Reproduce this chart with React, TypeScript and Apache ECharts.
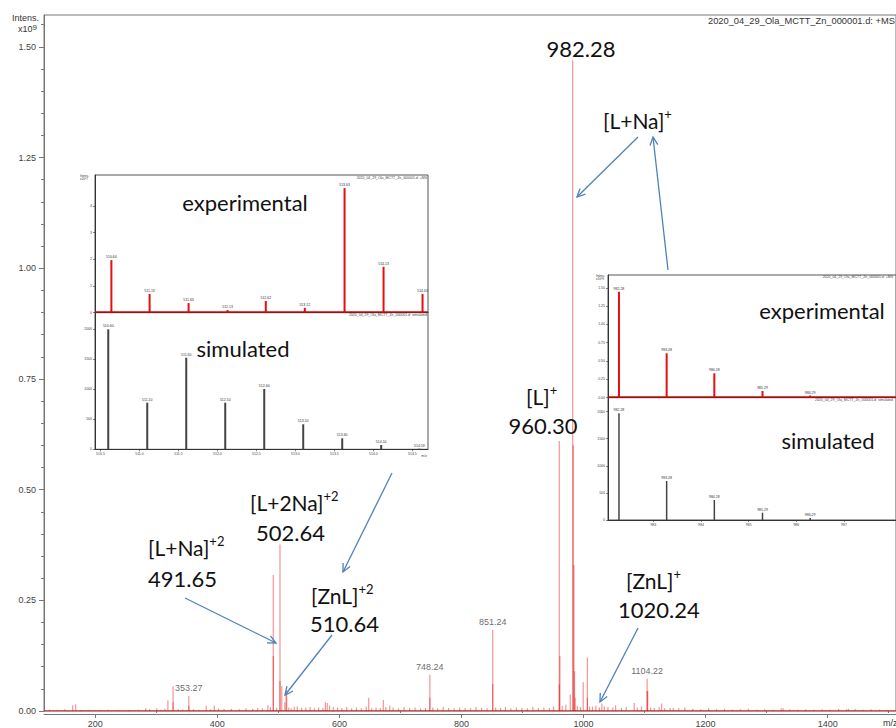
import React, { useEffect, useRef } from "react";
import * as echarts from "echarts";

// ---------- main spectrum (m/z, intensity x10^9) ----------
const mainMz = [163, 168, 282.7, 301, 319, 327.5, 353.27, 381.7, 395, 482.8, 491.65, 502.64, 505.6, 510.64, 512.6, 513.63, 526, 577, 580, 648, 672, 682.5, 748.24, 851.24, 960.3, 961.3, 978.3, 982.28, 983.28, 984.28, 985.29, 986.29, 999.5, 1006.3, 1014.7, 1020.24, 1030, 1052.6, 1083, 1104.22, 1105.22, 1128, 1142, 1327, 1434];
const mainInt = [0.013, 0.015, 0.006, 0.006, 0.024, 0.056, 0.034, 0.012, 0.012, 0.013, 0.307, 0.376, 0.056, 0.02, 0.038, 0.047, 0.01, 0.02, 0.018, 0.03, 0.025, 0.012, 0.082, 0.183, 0.61, 0.124, 0.037, 1.47, 0.6, 0.33, 0.09, 0.03, 0.065, 0.121, 0.01, 0.012, 0.017, 0.013, 0.018, 0.073, 0.045, 0.017, 0.007, 0.006, 0.005];
// darker lower parts of the profile peaks
const coreMz = [327.5, 353.27, 491.65, 502.64, 748.24, 851.24, 960.3, 1006.3, 1104.22];
const coreInt = [0.02, 0.012, 0.124, 0.068, 0.03, 0.061, 0.06, 0.03, 0.045];
const noiseMz = [125, 138, 150, 176, 190, 207, 221, 238, 255, 271, 289, 308, 314, 336, 343, 361, 370, 389, 402, 411, 423, 436, 447, 458, 466, 474, 487, 497, 517, 521, 531, 538, 545, 552, 559, 566, 573, 584, 590, 597, 604, 612, 620, 628, 636, 644, 653, 660, 667, 676, 688, 697, 706, 715, 724, 733, 741, 753, 761, 770, 779, 788, 797, 806, 815, 824, 833, 842, 856, 864, 872, 881, 890, 899, 908, 917, 926, 935, 944, 951, 965, 971, 990, 995, 1010, 1026, 1034, 1040, 1048, 1062, 1070, 1088, 1095, 1110, 1116, 1124, 1133, 1147, 1156, 1166, 1179, 1192, 1205, 1218, 1231, 1244, 1257, 1270, 1284, 1297, 1311, 1324, 1338, 1351, 1364, 1378, 1391, 1404, 1418, 1431, 1445, 1458, 1471, 1485, 1498];
const noiseInt = [
  0.003, 0.002, 0.004, 0.002, 0.003, 0.002, 0.003, 0.002, 0.002, 0.003,
  0.004, 0.003, 0.005, 0.004, 0.003, 0.004, 0.003, 0.004, 0.006, 0.005,
  0.005, 0.004, 0.006, 0.005, 0.007, 0.006, 0.009, 0.007, 0.008, 0.006,
  0.01, 0.007, 0.008, 0.009, 0.006, 0.008, 0.007, 0.012, 0.009, 0.008,
  0.007, 0.009, 0.006, 0.008, 0.007, 0.01, 0.006, 0.008, 0.007, 0.009,
  0.008, 0.006, 0.009, 0.007, 0.008, 0.006, 0.007, 0.008, 0.006, 0.009,
  0.007, 0.006, 0.008, 0.007, 0.006, 0.009, 0.007, 0.006, 0.008, 0.007,
  0.009, 0.006, 0.008, 0.007, 0.006, 0.009, 0.007, 0.008, 0.007, 0.01,
  0.012, 0.014, 0.011, 0.009, 0.01, 0.008, 0.011, 0.009, 0.008, 0.007,
  0.009, 0.008, 0.01, 0.008, 0.007, 0.009, 0.006, 0.007, 0.006, 0.008,
  0.005, 0.004, 0.006, 0.004, 0.005, 0.003, 0.004, 0.005, 0.003, 0.004,
  0.003, 0.006, 0.004, 0.003, 0.004, 0.003, 0.004, 0.003, 0.005, 0.004,
  0.005, 0.003, 0.004, 0.003, 0.002,
];
const labeledMz = [353.27, 748.24, 851.24, 1104.22];
const labeledInt = [0.034, 0.082, 0.183, 0.073];
const xTicks = [200, 400, 600, 800, 1000, 1200, 1400];
const xMinorTicks = [300, 500, 700, 900, 1100, 1300, 1500];
const yTicks = [0, 0.25, 0.5, 0.75, 1.0, 1.25, 1.5];
const yMinorTicks = [0.05, 0.1, 0.15, 0.2, 0.3, 0.35, 0.4, 0.45, 0.55, 0.6, 0.65, 0.7, 0.8, 0.85, 0.9, 0.95, 1.05, 1.1, 1.15, 1.2, 1.3, 1.35, 1.4, 1.45, 1.55];

// ---------- left inset: [ZnL]+2 ----------
const leftExpMz = [510.64, 511.13, 511.63, 512.13, 512.62, 513.12, 513.63, 514.13, 514.63];
const leftExpInt = [1.97, 0.7, 0.36, 0.1, 0.44, 0.18, 4.67, 1.72, 0.7]; // x10^7
const leftSimMz = [510.6, 511.1, 511.6, 512.1, 512.6, 513.1, 513.6, 514.1, 514.59];
const leftSimInt = [2000, 777, 1527, 777, 1005, 417, 183, 72, 10];
const leftExpYTicks = [0, 1, 2, 3, 4];
const leftSimYTicks = [0, 500, 1000, 1500, 2000];
const leftXTicks = [510.5, 511.0, 511.5, 512.0, 512.5, 513.0, 513.5, 514.0, 514.5];

// ---------- right inset: [L+Na]+ ----------
const rightExpMz = [982.28, 983.28, 984.28, 985.29, 986.29];
const rightExpInt = [1.445, 0.606, 0.333, 0.091, 0.03]; // x10^9
const rightSimMz = [982.28, 983.28, 984.28, 985.29, 986.29];
const rightSimInt = [1969, 720, 369, 135, 37];
const rightExpYTicks = [0, 0.25, 0.5, 0.75, 1.0, 1.25, 1.5];
const rightSimYTicks = [0, 500, 1000, 1500, 2000];
const rightXTicks = [983, 984, 985, 986, 987];

const FILE = "2020_04_29_Ola_MCTT_Zn_000001.d: +MS";
const AX = "'Liberation Sans', Arial, sans-serif";
const ANN = "Lato, 'Open Sans', sans-serif";
const BLUE = "#4f81bd";
const INK = "#111";

function zip(a: number[], b: number[]) {
  return a.map((v, i) => [v, b[i]]);
}

function arrow(x1: number, y1: number, x2: number, y2: number) {
  const ang = Math.atan2(y2 - y1, x2 - x1);
  const L = 9, a = Math.PI / 7;
  const p1 = [x2 - L * Math.cos(ang - a), y2 - L * Math.sin(ang - a)];
  const p2 = [x2 - L * Math.cos(ang + a), y2 - L * Math.sin(ang + a)];
  return [
    { type: "line", z: 100, shape: { x1, y1, x2, y2 }, style: { stroke: BLUE, lineWidth: 1.3 } },
    { type: "polyline", z: 100, shape: { points: [p1, [x2, y2], p2] }, style: { stroke: BLUE, lineWidth: 1.3, fill: null } },
  ];
}

function ion(x: number, y: number, main: string, sup: string) {
  return {
    type: "text", z: 100, x, y,
    style: {
      text: `{m|${main}}{s|${sup}}`,
      align: "left", verticalAlign: "middle",
      rich: {
        m: { fontSize: 21, fontFamily: ANN, fill: INK, lineHeight: 26 },
        s: { fontSize: 13, fontFamily: ANN, fill: INK, lineHeight: 14, verticalAlign: "top" },
      },
    },
  };
}

function plain(x: number, y: number, text: string, align = "left", size = 21, font = ANN, color = INK) {
  return { type: "text", z: 100, x, y, style: { text, align, verticalAlign: "middle", fontSize: size, fontFamily: font, fill: color } };
}

const numFmt = (v: number) => String(v);

function insetX(grid: number, min: number, max: number, ticks: number[] | null, fmt?: (v: number) => string) {
  return {
    type: "value", gridIndex: grid, min, max, position: "bottom",
    axisLine: { show: true, onZero: false, lineStyle: { color: "#333", width: 1 } },
    splitLine: { show: false },
    axisTick: ticks ? { show: true, customValues: ticks, length: 2, lineStyle: { color: "#333", width: 0.6 } } : { show: false },
    axisLabel: ticks ? { show: true, customValues: ticks, fontSize: 3.5, color: "#444", margin: 3, fontFamily: AX, formatter: fmt } : { show: false },
  };
}

function insetY(grid: number, max: number, ticks: number[], fmt: (v: number) => string) {
  return {
    type: "value", gridIndex: grid, min: 0, max, position: "left",
    axisLine: { show: true, lineStyle: { color: "#333", width: 1 } },
    splitLine: { show: false },
    axisTick: { show: true, customValues: ticks, length: 2, lineStyle: { color: "#333", width: 0.6 } },
    axisLabel: { customValues: ticks, fontSize: 3.5, color: "#444", margin: 3, fontFamily: AX, formatter: fmt },
  };
}

function stickSeries(xi: number, mz: number[], ints: number[], color: string, width: number) {
  return {
    type: "bar", xAxisIndex: xi, yAxisIndex: xi, barWidth: width,
    itemStyle: { color },
    data: zip(mz, ints),
    label: {
      show: true, position: "top", distance: 1, fontSize: 3.5, color: "#333", fontFamily: AX,
      formatter: (p: any) => mz[p.dataIndex].toFixed(2),
    },
  };
}

export default function App() {
  const ref = useRef<HTMLDivElement>(null);
  useEffect(() => {
    if (!ref.current) return;
    const chart = echarts.init(ref.current, null, { renderer: "svg" });
    const spectrum = [...zip(mainMz, mainInt), ...zip(coreMz, coreInt), ...zip(noiseMz, noiseInt)];
    const gridBox = { show: true, borderColor: "#555", borderWidth: 1, backgroundColor: "#fff" };

    const graphics: any[] = [
      // main axis titles
      plain(12, 18, "Intens.", "left", 9, AX, "#333"),
      {
        type: "text", z: 100, x: 18, y: 29,
        style: { text: "{a|x10}{b|9}", align: "left", verticalAlign: "middle", rich: { a: { fontSize: 9, fontFamily: AX, fill: "#333", lineHeight: 12 }, b: { fontSize: 8, fontFamily: AX, fill: "#333", lineHeight: 9, verticalAlign: "top" } } },
      },
      plain(708, 21, FILE, "left", 9.3, AX, "#333"),
      plain(883, 723, "m/z", "left", 9, AX, "#333"),
      // inset small headers
      plain(80, 176, "Intens.", "left", 3, AX, "#333"),
      plain(80, 179, "x10^7", "left", 3, AX, "#333"),
      plain(427, 178, FILE, "right", 3.5, AX, "#444"),
      plain(427, 315, "2020_04_29_Ola_MCTT_Zn_000001.d: simulated", "right", 3.5, AX, "#444"),
      plain(427, 456, "m/z", "right", 3.5, AX, "#444"),
      plain(596, 276, "Intens.", "left", 3, AX, "#333"),
      plain(596, 279, "x10^9", "left", 3, AX, "#333"),
      plain(893, 277, FILE, "right", 3.5, AX, "#444"),
      plain(893, 400, "2020_04_29_Ola_MCTT_Zn_000001.d: simulated", "right", 3.5, AX, "#444"),
      // inset titles
      plain(245, 202, "experimental", "center", 22),
      plain(243, 348, "simulated", "center", 22),
      plain(822, 310, "experimental", "center", 22),
      plain(828, 440, "simulated", "center", 22),
      // annotations
      plain(581, 48, "982.28", "center", 22),
      ion(603, 120, "[L+Na]", "+"),
      ion(526, 396, "[L]", "+"),
      plain(543, 425, "960.30", "center", 22),
      ion(250, 502, "[L+2Na]", "+2"),
      plain(256, 532, "502.64", "left", 22),
      ion(148, 547, "[L+Na]", "+2"),
      plain(148, 578, "491.65", "left", 22),
      ion(311, 595, "[ZnL]", "+2"),
      plain(310, 623, "510.64", "left", 22),
      ion(626, 580, "[ZnL]", "+"),
      plain(618, 609, "1020.24", "left", 22),
      ...arrow(638, 137, 577, 197),
      ...arrow(668, 270, 653, 137),
      ...arrow(392, 473, 343, 572),
      ...arrow(185, 598, 276, 643),
      ...arrow(332, 635, 285, 695),
      ...arrow(638, 628, 600, 702),
    ];

    chart.setOption({
      animation: false,
      backgroundColor: "#fff",
      textStyle: { fontFamily: AX },
      grid: [
        { left: 44, top: 15, width: 860, height: 698, show: true, borderColor: "#777", borderWidth: 1, backgroundColor: "transparent" },
        { left: 95, top: 175, width: 333, height: 137.7, ...gridBox },
        { left: 95, top: 312.7, width: 333, height: 136.6, ...gridBox },
        { left: 608, top: 275, width: 320, height: 122.7, ...gridBox },
        { left: 608, top: 397.7, width: 320, height: 122.3, ...gridBox },
      ],
      xAxis: [
        {
          type: "value", gridIndex: 0, min: 116, max: 1512, position: "bottom", offset: 3,
          axisLine: { show: true, onZero: false, lineStyle: { color: "#777", width: 1 } },
          axisTick: { show: true, customValues: xTicks, length: 4, lineStyle: { color: "#777" } },
          axisLabel: { customValues: xTicks, fontSize: 9, color: "#444", margin: 5, fontFamily: AX, formatter: numFmt },
          splitLine: { show: false },
        },
        insetX(1, 510.43, 514.7, null),
        insetX(2, 510.43, 514.7, leftXTicks, (v: number) => v.toFixed(1)),
        insetX(3, 982.05, 988.09, null),
        insetX(4, 982.05, 988.09, rightXTicks, numFmt),
        {
          type: "value", gridIndex: 0, min: 116, max: 1512, position: "bottom", offset: 3,
          axisLine: { show: false },
          axisTick: { show: true, customValues: xMinorTicks, length: 2, lineStyle: { color: "#777" } },
          axisLabel: { show: false },
          splitLine: { show: false },
        },
      ],
      yAxis: [
        {
          type: "value", gridIndex: 0, min: 0, max: 1.572, position: "left",
          axisLine: { show: true, lineStyle: { color: "#777", width: 1 } },
          axisTick: { show: true, customValues: yTicks, length: 5, lineStyle: { color: "#777" } },
          axisLabel: { customValues: yTicks, fontSize: 9, color: "#444", margin: 8, fontFamily: AX, formatter: (v: number) => v.toFixed(2) },
          splitLine: { show: false },
        },
        insetY(1, 5.16, leftExpYTicks, numFmt),
        insetY(2, 2277, leftSimYTicks, numFmt),
        insetY(3, 1.674, rightExpYTicks, (v: number) => v.toFixed(2)),
        insetY(4, 2257, rightSimYTicks, numFmt),
        {
          type: "value", gridIndex: 0, min: 0, max: 1.572, position: "left",
          axisLine: { show: false },
          axisTick: { show: true, customValues: yMinorTicks, length: 3, lineStyle: { color: "#777" } },
          axisLabel: { show: false },
          splitLine: { show: false },
        },
      ],
      series: [
        {
          type: "line", xAxisIndex: 0, yAxisIndex: 0, data: [[116, 0], [1512, 0]],
          symbol: "none", lineStyle: { color: "#e00000", width: 1.2 }, z: 2,
        },
        {
          type: "bar", xAxisIndex: 0, yAxisIndex: 0, barWidth: 1.2,
          itemStyle: { color: "rgba(228,0,0,0.42)" }, data: spectrum, z: 3,
        },
        {
          type: "scatter", xAxisIndex: 0, yAxisIndex: 0, symbolSize: 0,
          data: zip(labeledMz, labeledInt),
          label: { show: true, position: "top", distance: 3, fontSize: 9, color: "#444", fontFamily: AX, formatter: (p: any) => labeledMz[p.dataIndex].toFixed(2) },
        },
        { type: "line", xAxisIndex: 1, yAxisIndex: 1, data: [[510.43, 0.03], [514.7, 0.03]], symbol: "none", lineStyle: { color: "#e00000", width: 1.2 } },
        stickSeries(1, leftExpMz, leftExpInt, "#e31010", 2),
        stickSeries(2, leftSimMz, leftSimInt, "#444", 2),
        { type: "line", xAxisIndex: 3, yAxisIndex: 3, data: [[982.05, 0.01], [988.09, 0.01]], symbol: "none", lineStyle: { color: "#e00000", width: 1.2 } },
        stickSeries(3, rightExpMz, rightExpInt, "#e31010", 2),
        stickSeries(4, rightSimMz, rightSimInt, "#444", 1.5),
      ],
      graphic: graphics,
    });
    return () => chart.dispose();
  }, []);
  return <div ref={ref} style={{ position: "absolute", left: 0, top: 0, width: 896, height: 728, background: "#fff" }} />;
}
